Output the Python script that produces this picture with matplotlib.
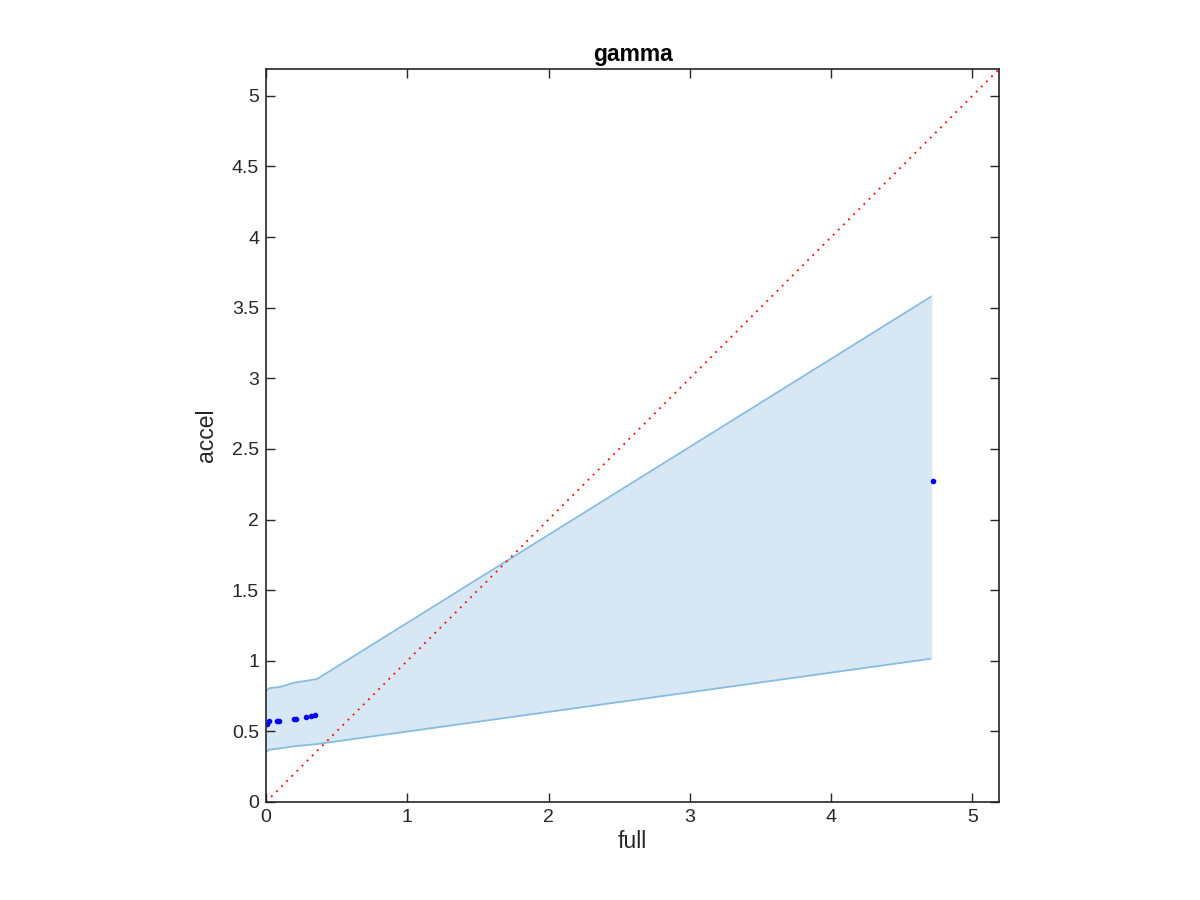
import matplotlib
matplotlib.use('Agg')
import matplotlib.pyplot as plt

plt.rcParams['font.family'] = ['Liberation Sans', 'DejaVu Sans']

# confidence band (x, lower, upper)
band_x = [0.0, 0.02, 0.1, 0.2, 0.36, 4.71]
band_lo = [0.355, 0.37, 0.38, 0.395, 0.41, 1.015]
band_hi = [0.785, 0.805, 0.815, 0.845, 0.87, 3.58]

# sample points
pts_x = [0.005, 0.02, 0.075, 0.09, 0.2, 0.21, 0.28, 0.32, 0.35, 4.72]
pts_y = [0.55, 0.57, 0.57, 0.575, 0.59, 0.59, 0.60, 0.61, 0.615, 2.27]

lim = [0, 5.19]

fig = plt.figure(figsize=(12, 9), dpi=100)
ax = fig.add_axes([0.2217, 0.1089, 0.611, 0.8144])

ax.fill_between(band_x, band_lo, band_hi, color='#d8e7f4', linewidth=0)
ax.plot(band_x, band_hi, color='#86bde0', lw=1.3)
ax.plot(band_x, band_lo, color='#86bde0', lw=1.3)
ax.plot([band_x[-1], band_x[-1]], [band_lo[-1], band_hi[-1]], color='#d8e7f4', lw=1)

ax.plot(lim, lim, color='red', ls=(0, (1, 3)), lw=1.3)
ax.plot(pts_x, pts_y, '.', color='blue', ms=6)

ax.set_xlim(lim)
ax.set_ylim(lim)
ax.set_xticks([0, 1, 2, 3, 4, 5])
ax.set_yticks([0, 0.5, 1, 1.5, 2, 2.5, 3, 3.5, 4, 4.5, 5])
ax.set_yticklabels(['0', '0.5', '1', '1.5', '2', '2.5', '3', '3.5', '4', '4.5', '5'])
ax.tick_params(direction='in', top=True, right=True, length=6.5, width=1,
               color='#262626', labelsize=14, labelcolor='#262626', pad=5)
for s in ax.spines.values():
    s.set_color('#262626')
    s.set_linewidth(1.2)

ax.set_title('gamma', fontsize=16.5, fontweight='bold', pad=6)
ax.set_xlabel('full', fontsize=16.5, color='#262626', labelpad=3)
ax.set_ylabel('accel', fontsize=16.5, color='#262626', labelpad=10)

fig.savefig('out.png', dpi=100)
